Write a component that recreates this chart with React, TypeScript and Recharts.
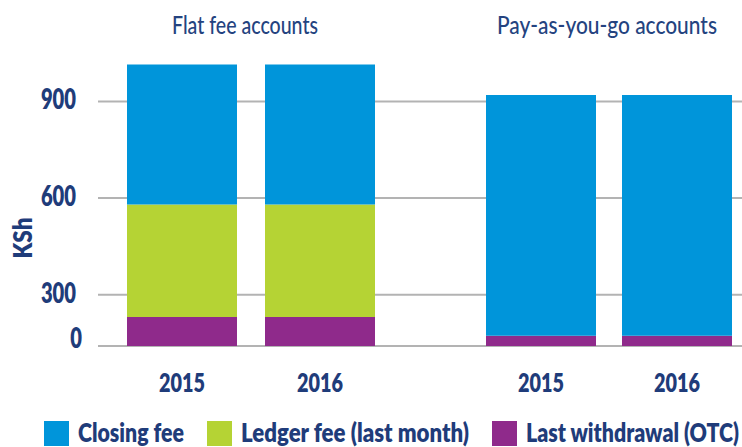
import React, { useLayoutEffect, useRef, useState, useEffect } from 'react';
import { BarChart, Bar, XAxis, YAxis, CartesianGrid, Legend } from 'recharts';

// ---- data ----
const groupTitles = ['Flat fee accounts', 'Pay-as-you-go accounts'];
const years = ['2015', '2016'];
const seriesNames = ['Closing fee', 'Ledger fee (last month)', 'Last withdrawal (OTC)'];
const seriesColors = ['#0095da', '#b5d334', '#8f2a8b'];

const flatWithdrawal = [170, 170];
const flatLedger = [410, 410];
const flatClosing = [435, 435];

const paygWithdrawal = [60, 60];
const paygLedger = [0, 0];
const paygClosing = [860, 860];

const yTickValues = [0, 300, 600, 900];
const yAxisTop = 1041;
// the original axis draws the 0-300 segment compressed (axis break)
const breakValue = 300;
const breakScale = 0.53;

const toAxis = (v: number) => (v <= breakValue ? v * breakScale : breakValue * breakScale + (v - breakValue));

function buildRows(w: number[], l: number[], c: number[]) {
  return years.map((year, i) => {
    const c1 = w[i];
    const c2 = w[i] + l[i];
    const c3 = w[i] + l[i] + c[i];
    return {
      year,
      withdrawal: toAxis(c1),
      ledger: toAxis(c2) - toAxis(c1),
      closing: toAxis(c3) - toAxis(c2),
    };
  });
}

const flatRows = buildRows(flatWithdrawal, flatLedger, flatClosing);
const paygRows = buildRows(paygWithdrawal, paygLedger, paygClosing);
const axisTicks = yTickValues.map(toAxis);
const axisDomain: [number, number] = [0, toAxis(yAxisTop)];

const FONT = "Lato, 'Noto Sans', sans-serif";
const NAVY = '#1f3c7a';
const GRID = '#b3b3b3';

// approximate rendered widths of the condensed original typeface
const charW = 11.7;
const boldLabelWidths: Record<string, number> = {
  'Closing fee': 106,
  'Ledger fee (last month)': 228,
  'Last withdrawal (OTC)': 213,
  KSh: 41,
};

// text squeezed horizontally to a target width (imitates a condensed typeface)
const FitText = (props: {
  x: number;
  y: number;
  width: number;
  anchor?: 'start' | 'middle' | 'end';
  rotate?: number;
  fill: string;
  weight: number;
  size: number;
  children: string;
}) => {
  const { x, y, width, anchor = 'start', rotate = 0, fill, weight, size, children } = props;
  const ref = useRef<SVGTextElement>(null);
  const [k, setK] = useState(1);
  const measure = () => {
    if (ref.current) {
      const w = ref.current.getComputedTextLength();
      if (w > 0) setK(width / w);
    }
  };
  useLayoutEffect(measure, [width, children, size, weight]);
  useEffect(() => {
    if ((document as any).fonts && (document as any).fonts.ready) {
      (document as any).fonts.ready.then(measure);
    }
  }, []);
  return (
    <text
      ref={ref}
      x={0}
      y={0}
      textAnchor={anchor}
      fill={fill}
      transform={`translate(${x},${y}) rotate(${rotate}) scale(${k},1)`}
      style={{ fontFamily: FONT, fontWeight: weight, fontSize: size }}
    >
      {children}
    </text>
  );
};

const YTick = (props: any) => {
  const { x, y, payload } = props;
  const idx = axisTicks.findIndex((t) => Math.abs(t - payload.value) < 1e-6);
  const label = idx >= 0 ? String(yTickValues[idx]) : '';
  const isZero = idx === 0;
  return (
    <FitText
      x={x + (isZero ? 6 : 0)}
      y={y + (isZero ? 2 : 8)}
      width={label.length * charW}
      anchor="end"
      fill={NAVY}
      weight={800}
      size={28}
    >
      {label}
    </FitText>
  );
};

const XTick = (props: any) => {
  const { x, y, payload } = props;
  return (
    <FitText x={x} y={y + 38} width={46} anchor="middle" fill={NAVY} weight={800} size={25.5}>
      {String(payload.value)}
    </FitText>
  );
};

const LegendContent = () => {
  let cursor = 44;
  const items = seriesNames.map((name, i) => {
    const sx = cursor;
    const tx = sx + 25 + 9;
    const w = boldLabelWidths[name];
    cursor = tx + w + 23;
    return (
      <g key={name}>
        <rect x={sx} y={0} width={25} height={25} fill={seriesColors[i]} />
        <FitText x={tx} y={21} width={w} fill={NAVY} weight={800} size={27}>
          {name}
        </FitText>
      </g>
    );
  });
  return (
    <svg width={742} height={26} style={{ display: 'block', overflow: 'visible' }}>
      {items}
    </svg>
  );
};

const KShLabel = (props: any) => {
  const vb = props.viewBox || { x: 0, y: 0 };
  return (
    <FitText
      x={vb.x + 32}
      y={vb.y + 182}
      rotate={-90}
      width={boldLabelWidths.KSh}
      anchor="middle"
      fill={NAVY}
      weight={800}
      size={27}
    >
      KSh
    </FitText>
  );
};

const titleWidths = [146, 220];
const titleCenters = [245, 607];

export default function App() {
  return (
    <div
      style={{
        position: 'absolute',
        left: 0,
        top: 0,
        width: 742,
        height: 447,
        overflow: 'hidden',
        background: '#fff',
      }}
    >
      <div style={{ position: 'absolute', left: 0, top: 0 }}>
        <BarChart width={389} height={447} data={flatRows} margin={{ top: 56, right: 0, bottom: 41, left: 0 }}>
          <CartesianGrid horizontal vertical={false} horizontalValues={axisTicks} stroke={GRID} strokeWidth={2} />
          <XAxis
            dataKey="year"
            axisLine={false}
            tickLine={false}
            height={60}
            padding={{ left: 15, right: 0 }}
            tick={<XTick />}
            interval={0}
          />
          <YAxis
            width={98}
            domain={axisDomain}
            ticks={axisTicks}
            allowDataOverflow
            axisLine={false}
            tickLine={false}
            tickMargin={16}
            tick={<YTick />}
            label={<KShLabel />}
          />
          <Legend
            layout="horizontal"
            verticalAlign="middle"
            align="center"
            content={<LegendContent />}
            wrapperStyle={{ position: 'absolute', left: 0, top: 421, width: 742, height: 26 }}
          />
          <Bar dataKey="withdrawal" stackId="a" fill={seriesColors[2]} barSize={110} isAnimationActive={false} />
          <Bar dataKey="ledger" stackId="a" fill={seriesColors[1]} barSize={110} isAnimationActive={false} />
          <Bar dataKey="closing" stackId="a" fill={seriesColors[0]} barSize={110} isAnimationActive={false} />
        </BarChart>
      </div>

      <div style={{ position: 'absolute', left: 389, top: 0 }}>
        <BarChart width={356} height={447} data={paygRows} margin={{ top: 56, right: 0, bottom: 41, left: 0 }}>
          <CartesianGrid horizontal vertical={false} horizontalValues={axisTicks} stroke={GRID} strokeWidth={2} />
          <XAxis
            dataKey="year"
            axisLine={false}
            tickLine={false}
            height={60}
            padding={{ left: 84, right: 0 }}
            tick={<XTick />}
            interval={0}
          />
          <YAxis hide domain={axisDomain} ticks={axisTicks} allowDataOverflow />
          <Bar dataKey="withdrawal" stackId="a" fill={seriesColors[2]} barSize={110} isAnimationActive={false} />
          <Bar dataKey="ledger" stackId="a" fill={seriesColors[1]} barSize={110} isAnimationActive={false} />
          <Bar dataKey="closing" stackId="a" fill={seriesColors[0]} barSize={110} isAnimationActive={false} />
        </BarChart>
      </div>

      <svg
        width={742}
        height={50}
        style={{ position: 'absolute', left: 0, top: 0, pointerEvents: 'none' }}
      >
        {groupTitles.map((t, i) => (
          <FitText
            key={t}
            x={titleCenters[i]}
            y={34}
            width={titleWidths[i]}
            anchor="middle"
            fill="#24437f"
            weight={500}
            size={25}
          >
            {t}
          </FitText>
        ))}
      </svg>
    </div>
  );
}
